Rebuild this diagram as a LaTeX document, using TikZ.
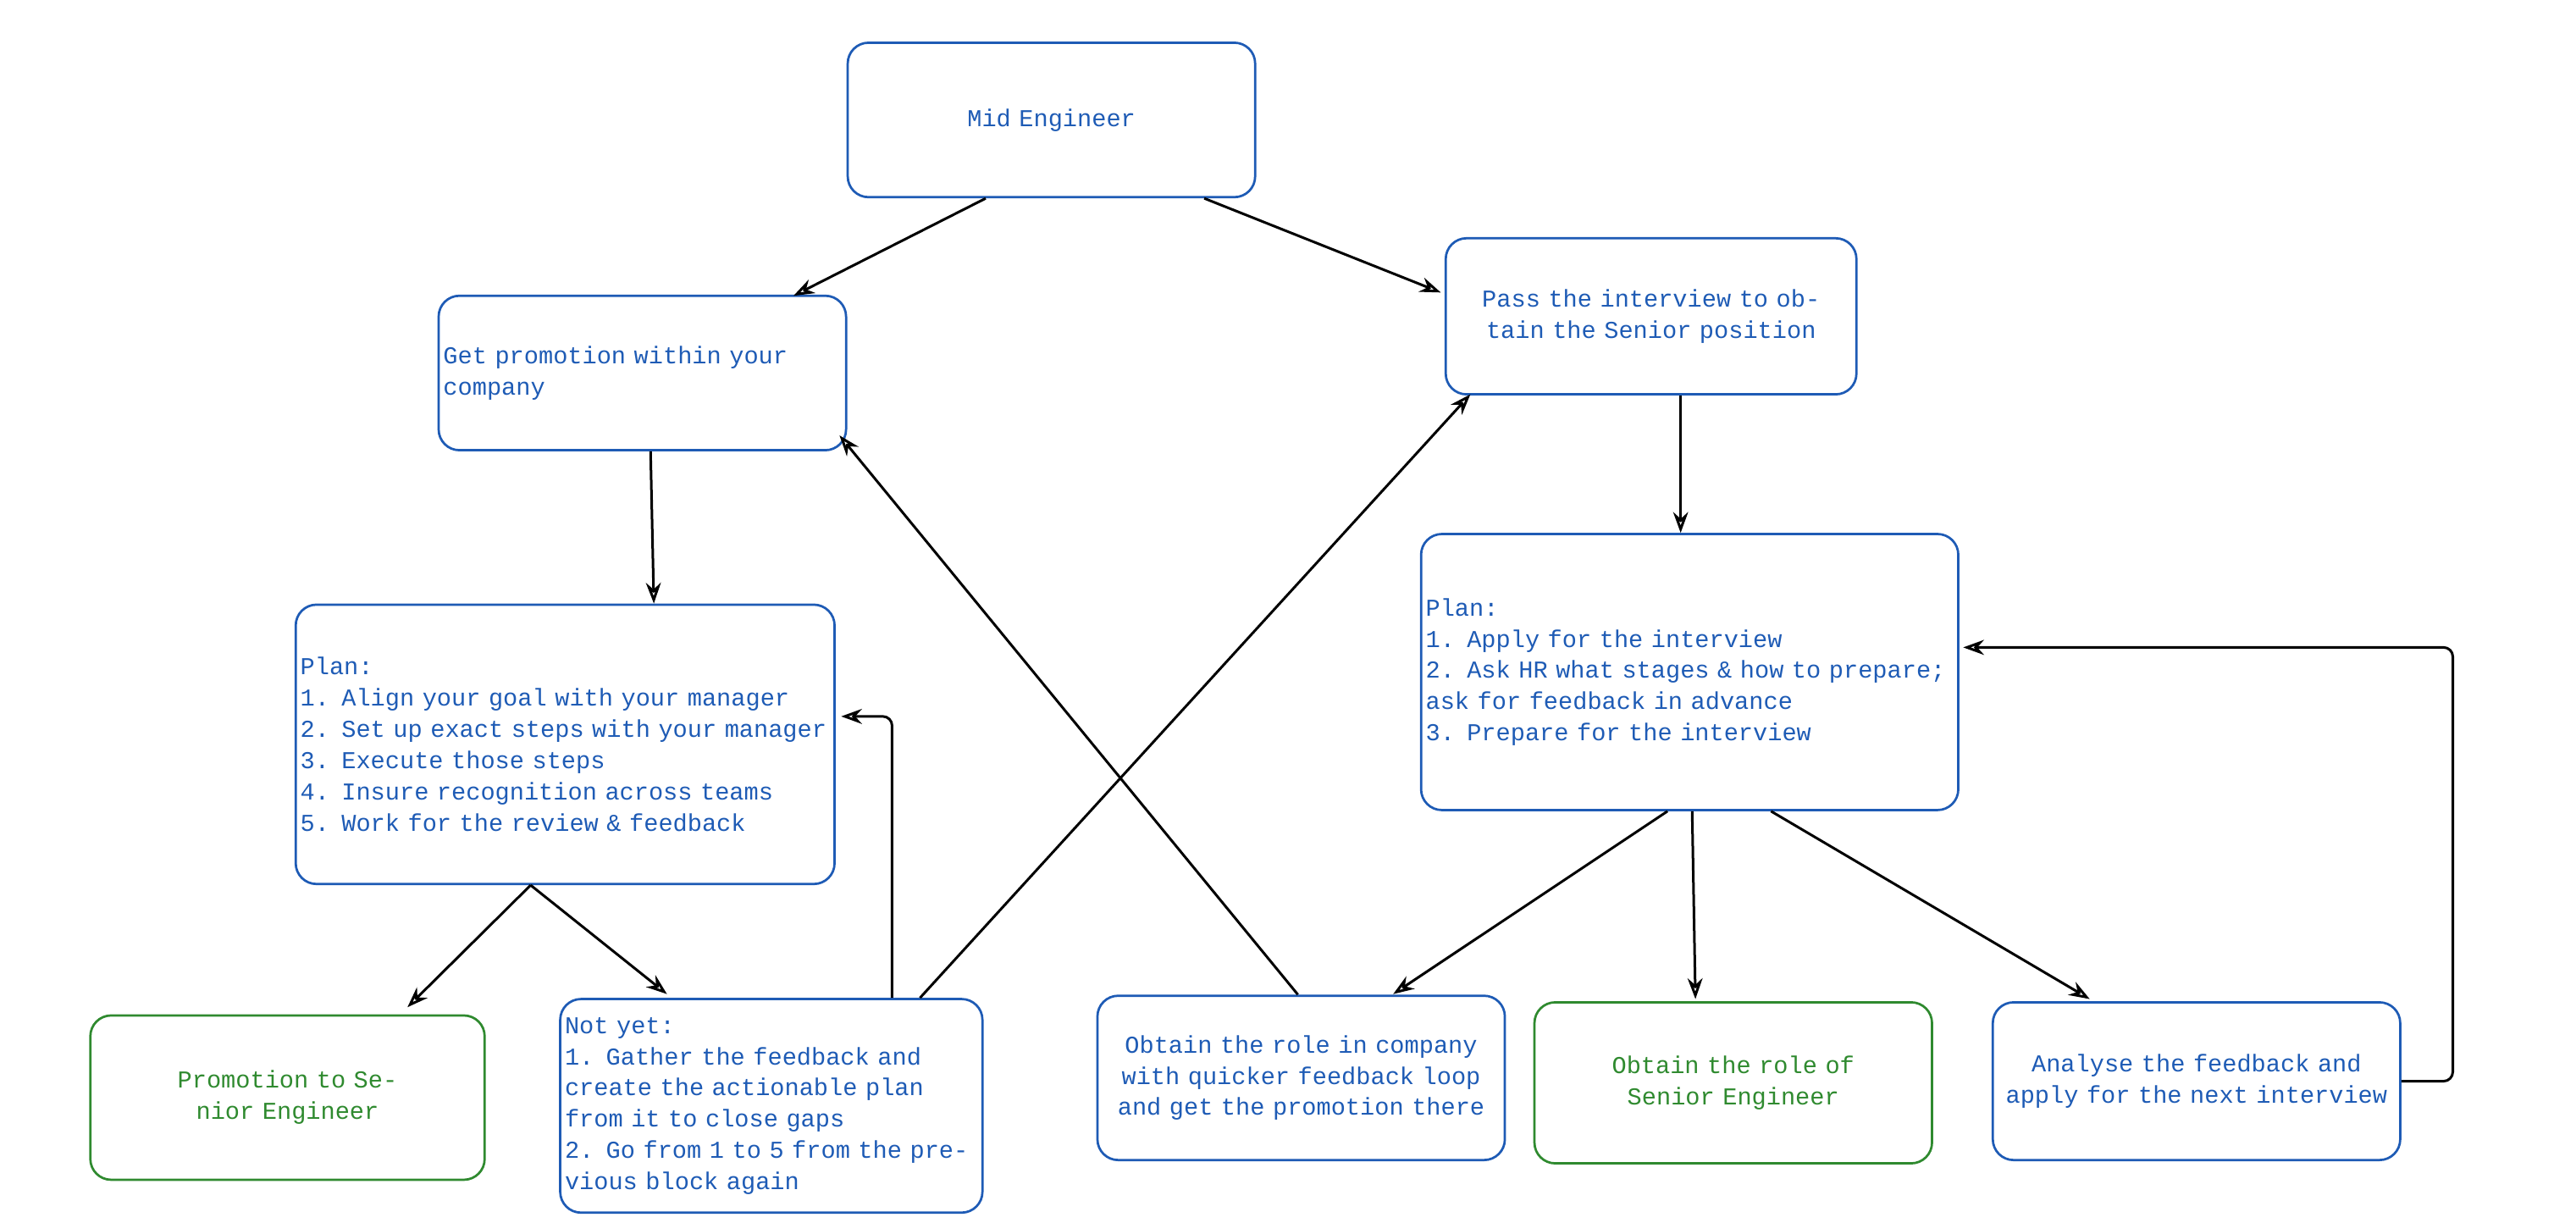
\documentclass[tikz,border=0pt]{standalone}
\usepackage{fontspec}
\setmainfont{Liberation Mono}
\usetikzlibrary{arrows.meta}
\definecolor{bl}{HTML}{1E5BB5}
\definecolor{gr}{HTML}{2F8A2F}
\begin{document}
\begin{tikzpicture}[x=0.05cm,y=-0.05cm,
  box/.style={draw=bl,line width=2pt,rounded corners=18pt,text=bl,font=\fontsize{21}{27}\selectfont,inner sep=3pt},
  gbox/.style={box,draw=gr,text=gr},
  arr/.style={-{Stealth[length=18pt,width=13pt,open]},line width=2.2pt,black}]
\useasboundingbox (0,0) rectangle (1568,744);
\newcommand{\bx}[6]{\node[#1,minimum width={(#4-#2)*0.05cm},minimum height={(#5-#3)*0.05cm},text width={(#4-#2)*0.05cm-8pt}] (#6) at ({(#2+#4)/2},{(#3+#5)/2})}
\bx{box,align=center}{516}{26}{764}{120}{mid} {Mid Engineer};
\bx{box,align=left}{267}{180}{515}{274}{gp} {Get promotion within your company};
\bx{box,align=center}{880}{145}{1130}{240}{pass} {Pass the interview to obtain the Senior position};
\bx{box,align=left}{180}{368}{508}{538}{pl} {Plan:\\1. Align your goal with your manager\\2. Set up exact steps with your manager\\3. Execute those steps\\4. Insure recognition across teams\\5. Work for the review \& feedback};
\bx{box,align=left}{865}{325}{1192}{493}{pr} {Plan:\\1. Apply for the interview\\2. Ask HR what stages \& how to prepare; ask for feedback in advance\\3. Prepare for the interview};
\bx{gbox,align=center}{55}{618}{295}{718}{ps} {Promotion to Senior Engineer};
\bx{box,align=left}{341}{608}{598}{738}{ny} {Not yet:\\1. Gather the feedback and create the actionable plan from it to close gaps\\2. Go from 1 to 5 from the previous block again};
\bx{box,align=center}{668}{606}{916}{706}{oc} {Obtain the role in company with quicker feedback loop and get the promotion there};
\bx{gbox,align=center}{934}{610}{1176}{708}{os} {Obtain the role of Senior Engineer};
\bx{box,align=center}{1213}{610}{1461}{706}{an} {Analyse the feedback and apply for the next interview};
\draw[arr] (mid.south -| 600,0) -- (483,180);
\draw[arr] (mid.south -| 733,0) -- (877,178);
\draw[arr] (gp.south -| 396,0) -- (pl.north -| 398,0);
\draw[arr] (pass.south -| 1023,0) -- (pr.north -| 1023,0);
\draw[arr] (pl.south -| 323,0) -- (248,613);
\draw[arr] (pl.south -| 323,0) -- (406,605);
\draw[arr,rounded corners=8pt] (ny.north -| 543,0) -- (543,436) -- (512,436);
\draw[arr] (ny.north -| 560,0) -- (895,240);
\draw[arr] (oc.north -| 790,0) -- (511,265);
\draw[arr] (pr.south -| 1015,0) -- (848,605);
\draw[arr] (pr.south -| 1030,0) -- (1032,608);
\draw[arr] (pr.south -| 1078,0) -- (1272,608);
\draw[arr,rounded corners=8pt] (an.east |- 0,658) -- (1493,658) -- (1493,394) -- (1195,394);
\end{tikzpicture}
\end{document}
